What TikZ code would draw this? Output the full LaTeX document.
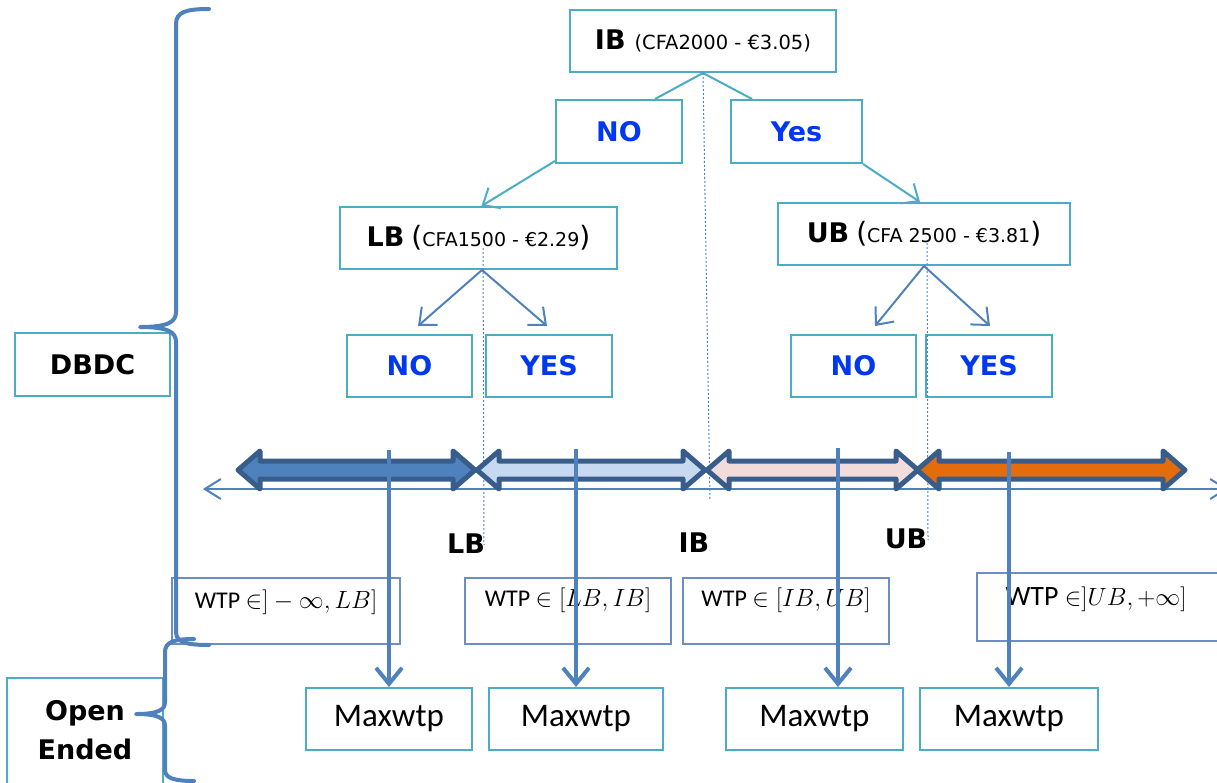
\documentclass[tikz,border=0pt]{standalone}
\usepackage{fontspec}
\setmainfont{Carlito}
\newfontfamily\vfont{DejaVu Sans}
\usetikzlibrary{arrows.meta,calc}
\definecolor{tealc}{RGB}{75,172,198}
\definecolor{bluec}{RGB}{79,129,189}
\definecolor{darkc}{RGB}{56,93,138}
\definecolor{ansblue}{RGB}{0,56,240}
\definecolor{wtpc}{RGB}{108,142,196}
\definecolor{band1}{RGB}{79,129,189}
\definecolor{band2}{RGB}{198,217,241}
\definecolor{band3}{RGB}{242,220,219}
\definecolor{band4}{RGB}{228,108,10}
\newcommand{\setsz}[1]{\fontsize{#1}{#1}\selectfont}
% double-headed band arrow: fill colour, left tip x, right tip x
\newcommand{\bandarrow}[3]{%
  \draw[band,fill=#1] (#2,470) -- (#2+22,451) -- (#2+22,461) -- (#3-22,461)
    -- (#3-22,451) -- (#3,470) -- (#3-22,489) -- (#3-22,479)
    -- (#2+22,479) -- (#2+22,489) -- cycle;}
\begin{document}
\begin{tikzpicture}[x=1pt,y=-1pt,
  tbox/.style={draw=tealc, line width=2pt, minimum height=62pt, inner sep=0pt, align=center},
  ans/.style={tbox, font=\vfont\bfseries\setsz{27}, text=ansblue},
  maxb/.style={tbox, font=\setsz{33}},
  wbox/.style={draw=wtpc, line width=1.2pt, inner sep=0pt, minimum height=66pt},
  wtext/.style={font=\setsz{24}, inner sep=0pt, anchor=north},
  lab/.style={font=\vfont\bfseries\setsz{27}, inner sep=0pt},
  link/.style={draw=tealc, line width=2pt},
  tlink/.style={link, -{Straight Barb[length=14pt,width=24pt]}},
  dlink/.style={draw=bluec, line width=2pt, -{Straight Barb[length=14pt,width=24pt]}},
  guide/.style={draw=bluec, line width=1pt, dash pattern=on 2pt off 2pt},
  band/.style={draw=darkc, line width=5pt, line join=round},
  drop/.style={draw=bluec, line width=4pt, -{Straight Barb[length=16pt,width=26pt]}},
  brace/.style={draw=bluec, line width=4pt, line cap=round, line join=round},
  axis/.style={draw=bluec, line width=2pt, {Straight Barb[length=16pt,width=20pt]}-{Straight Barb[length=16pt,width=20pt]}}
]
\useasboundingbox (0,0) rectangle (1217,782);
\clip (0,0) rectangle (1217,782);

% decision tree
\node[tbox, minimum width=266pt] (IB) at (703,41)
  {{\vfont\bfseries\setsz{27}IB}\hspace{9pt}{\vfont\setsz{19.5}(CFA2000 - €3.05)}};
\node[ans, minimum width=126pt, minimum height=63pt] (NOt) at (619,131.5) {NO};
\node[ans, minimum width=131pt, minimum height=63pt] (Yt) at (796.5,131.5) {Yes};
\node[tbox, minimum width=277pt] (LB) at (478.5,238)
  {{\vfont\bfseries\setsz{27}LB}\hspace{7pt}{\vfont\setsz{28}(\setsz{19}CFA1500 - €2.29\setsz{28})}};
\node[tbox, minimum width=292pt] (UB) at (924,234)
  {{\vfont\bfseries\setsz{27}UB}\hspace{7pt}{\vfont\setsz{28}(\setsz{19}CFA 2500 - €3.81\setsz{28})}};
\node[ans, minimum width=125pt] (NO1) at (409.5,366) {NO};
\node[ans, minimum width=126pt] (YES1) at (549,366) {YES};
\node[ans, minimum width=125pt] (NO2) at (853.5,366) {NO};
\node[ans, minimum width=126pt] (YES2) at (989,366) {YES};

\draw[link] (IB.south) -- ([xshift=36pt]NOt.north);
\draw[link] (IB.south) -- ([xshift=-44.5pt]Yt.north);
\draw[tlink] ([yshift=3pt]NOt.south west) -- ([xshift=3pt]LB.north);
\draw[tlink] (Yt.south east) -- ([xshift=-4pt]UB.north);
\draw[dlink] ([xshift=3.5pt]LB.south) -- ([xshift=8.5pt,yshift=8pt]NO1.north);
\draw[dlink] ([xshift=3.5pt]LB.south) -- ([xshift=-2pt,yshift=8pt]YES1.north);
\draw[dlink] (UB.south) -- ([xshift=21.5pt,yshift=8pt]NO2.north);
\draw[dlink] (UB.south) -- ([xshift=1pt,yshift=8pt]YES2.north);

% side labels
\node[tbox, draw=tealc, line width=1.5pt, minimum width=155pt, minimum height=63pt,
  font=\vfont\bfseries\setsz{27}] (DBDC) at (92.5,364.5) {DBDC};
\node[tbox, line width=1.5pt, minimum width=156pt, minimum height=124pt] (OE) at (85,740) {};
\node[font=\vfont\bfseries\setsz{27}, align=center, inner sep=0pt] (OEt) at (85,730)
  {Open\\[12pt]Ended};

% dotted guides from the bids down to the axis
\coordinate (gIB) at (710,500);
\coordinate (gLB) at (484,545);
\coordinate (gUB) at (928,540);
\draw[guide] (IB.south) -- (gIB);
\draw[guide] ($(LB.center)+(4.5,10)$) -- (gLB);
\draw[guide] ($(UB.center)+(3,9)$) -- (gUB);

% WTP axis
\coordinate (axL) at (203,489);
\coordinate (axR) at (1228,489);
\draw[axis] (axL) -- (axR);

\bandarrow{band1}{238}{475}
\bandarrow{band2}{477}{705}
\bandarrow{band3}{707}{918}
\bandarrow{band4}{917}{1185}

\node[lab] (tLB) at (466,544) {LB};
\node[lab] (tIB) at (694,543) {IB};
\node[lab] (tUB) at (906,539) {UB};

% intervals
\node[wbox, minimum width=228pt] (w1) at (286,611) {};
\node[wbox, minimum width=206pt] (w2) at (568,611) {};
\node[wbox, minimum width=206pt] (w3) at (786,611) {};
\node[wbox, minimum width=242pt, minimum height=68pt] (w4) at (1098,607) {};
\node[wtext] (w1t) at ([yshift=-12pt]w1.north) {WTP $\in]-\infty,LB]$};
\node[wtext] (w2t) at ([yshift=-10pt]w2.north) {WTP $\in[LB,IB]$};
\node[wtext] (w3t) at ([yshift=-10pt]w3.north) {WTP $\in[IB,UB]$};
\node[wtext, font=\setsz{28}] (w4t) at ([yshift=-14pt,xshift=-2pt]w4.north) {WTP $\in]UB,+\infty]$};

% open-ended answers
\node[maxb, minimum width=166pt] (m1) at (389,719) {Maxwtp};
\node[maxb, minimum width=174pt] (m2) at (576,719) {Maxwtp};
\node[maxb, minimum width=177pt] (m3) at (814.5,719) {Maxwtp};
\node[maxb, minimum width=178pt] (m4) at (1009,719) {Maxwtp};

\coordinate (v1) at (389,450);
\coordinate (v2) at (576,449);
\coordinate (v3) at (838,448);
\coordinate (v4) at (1009,452);
\draw[drop] (v1) -- (m1.north);
\draw[drop] (v2) -- (m2.north);
\draw[drop] (v3) -- (m3.north -| v3);
\draw[drop] (v4) -- (m4.north);

% braces
\draw[brace] (209,9) .. controls (186,9) and (176,12) .. (176,24) -- (176,312)
  .. controls (176,322) and (168,327) .. (140,327)
  .. controls (168,327) and (176,332) .. (176,342) -- (176,632)
  .. controls (176,642) and (186,645) .. (209,645);
\draw[brace] (194,639) .. controls (174,639) and (165,642) .. (165,652) -- (165,702)
  .. controls (165,710) and (158,714) .. (136,714)
  .. controls (158,714) and (165,718) .. (165,726) -- (165,770)
  .. controls (165,778) and (174,781) .. (194,781);
\end{tikzpicture}
\end{document}
